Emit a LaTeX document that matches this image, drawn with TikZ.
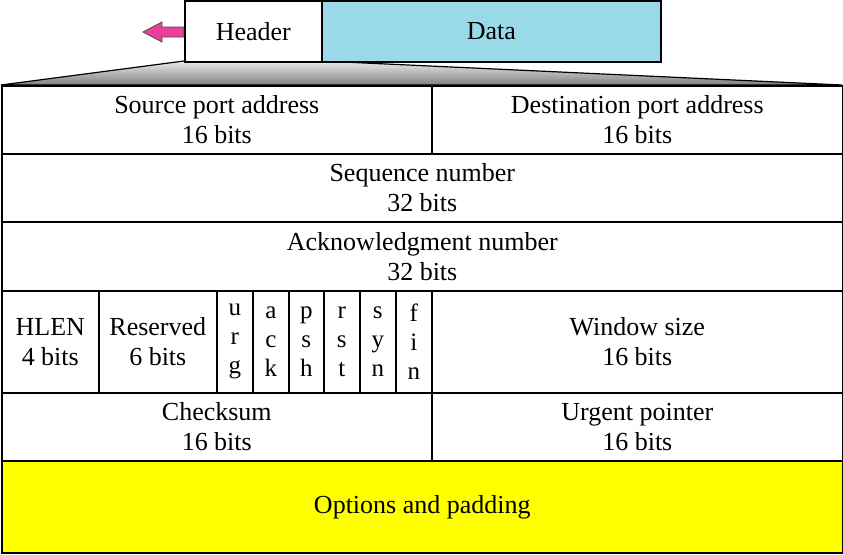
\documentclass[tikz,border=0pt]{standalone}
\usepackage{fontspec}
\setmainfont{Liberation Serif}
\definecolor{datablue}{HTML}{9AD9E8}
\definecolor{arrowpink}{HTML}{EE3F98}
\definecolor{optyellow}{HTML}{FFFF00}
\begin{document}
\begin{tikzpicture}[x=1pt,y=-1pt,
  cell/.style={draw=black, line width=1.6pt, anchor=north west, inner sep=0pt,
    align=center, font=\fontsize{26}{30}\selectfont},
  flag/.style={cell, font=\fontsize{25}{29}\selectfont},
  top/.style={draw=black, line width=1.6pt, anchor=north west, inner sep=0pt,
    font=\fontsize{26}{30}\selectfont}]
\useasboundingbox (0,0) rectangle (843,554);
% shaded funnel
\shade[top color=black!8, bottom color=black!50, draw=black, line width=1.2pt]
  (1,85) -- (184,61) -- (321,61) -- (842,85) -- cycle;
% pink arrow
\fill[arrowpink, draw=black!70, line width=0.8pt]
  (184,27) -- (162,27) -- (162,22) -- (143,32) -- (162,42) -- (162,37) -- (184,37) -- cycle;
% header and data
\node[top, fill=white, minimum width=137pt, minimum height=61pt] (hdr) at (184,0) {Header};
\node[top, fill=datablue, minimum width=339pt, minimum height=61pt] (data) at (321,0) {Data};
% row 1
\node[cell, minimum width=430pt, minimum height=68pt] (src) at (1,85) {Source port address\\16 bits};
\node[cell, minimum width=411pt, minimum height=68pt] (dst) at (431,85) {Destination port address\\16 bits};
% row 2
\node[cell, minimum width=841pt, minimum height=68pt] (seq) at (1,153) {Sequence number\\32 bits};
% row 3
\node[cell, minimum width=841pt, minimum height=69pt] (ack) at (1,221) {Acknowledgment number\\32 bits};
% row 4
\node[cell, minimum width=97pt, minimum height=102pt] (hlen) at (1,290) {HLEN\\4 bits};
\node[cell, minimum width=118pt, minimum height=102pt] (res) at (98,290) {Reserved\\6 bits};
\node[flag, minimum width=36pt, minimum height=102pt] (urg) at (216,290) {u\\r\\g};
\node[flag, minimum width=36pt, minimum height=102pt] (fack) at (252,290) {a\\c\\k};
\node[flag, minimum width=35pt, minimum height=102pt] (psh) at (288,290) {p\\s\\h};
\node[flag, minimum width=36pt, minimum height=102pt] (rst) at (323,290) {r\\s\\t};
\node[flag, minimum width=36pt, minimum height=102pt] (syn) at (359,290) {s\\y\\n};
\node[flag, minimum width=36pt, minimum height=102pt] (fin) at (395,290) {f\\i\\n};
\node[cell, minimum width=411pt, minimum height=102pt] (win) at (431,290) {Window size\\16 bits};
% row 5
\node[cell, minimum width=430pt, minimum height=68pt] (chk) at (1,392) {Checksum\\16 bits};
\node[cell, minimum width=411pt, minimum height=68pt] (urp) at (431,392) {Urgent pointer\\16 bits};
% row 6
\node[cell, fill=optyellow, minimum width=841pt, minimum height=92pt] (opt) at (1,460) {Options and padding};
\end{tikzpicture}
\end{document}
